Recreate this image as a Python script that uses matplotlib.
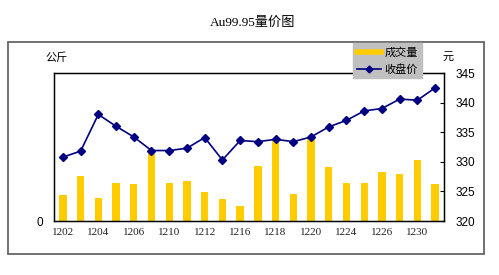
import matplotlib.pyplot as plt
from matplotlib.lines import Line2D
from matplotlib.patches import Rectangle

dates = ['1202', '1203', '1204', '1205', '1206', '1209', '1210', '1211', '1212', '1213', '1216',
         '1217', '1218', '1219', '1220', '1223', '1224', '1225', '1226', '1227', '1230', '1231']
# volume (kg)
volume = [2570, 4500, 2330, 3830, 3730, 7100, 3770, 4000, 2930, 2230, 1500,
          5470, 8170, 2700, 8270, 5430, 3800, 3800, 4900, 4670, 6100, 3670]
# close price (yuan)
close = [330.8, 331.8, 338.0, 336.0, 334.2, 331.9, 331.9, 332.3, 334.1, 330.3, 333.6,
         333.4, 333.8, 333.4, 334.2, 335.9, 337.0, 338.6, 339.0, 340.6, 340.4, 342.5]
tick_labels = dates[::2]

serif = ['Liberation Serif', 'Noto Sans CJK SC']
cjk = ['Noto Sans CJK SC', 'DejaVu Sans']

fig = plt.figure(figsize=(4.99, 2.75), dpi=100)
fig.patch.set_facecolor('white')

# outer chart frame
fig.patches.append(Rectangle((8 / 499, 1 - 254 / 275), 476 / 499, 212 / 275,
                             transform=fig.transFigure, fill=False,
                             edgecolor='#666666', lw=1.3))

ax = fig.add_axes([54 / 499, 1 - 221 / 275, 390 / 499, 148 / 275])
x = list(range(len(dates)))
ax.bar(x, volume, width=0.42, color='#FFCC00', zorder=2)
ax.set_xlim(-0.5, len(dates) - 0.5)
ax.set_ylim(0, 14800)
ax.set_yticks([0])
ax.set_yticklabels(['0'], family='Liberation Sans', fontsize=8.5)
ax.set_xticks(x[::2])
ax.set_xticklabels(tick_labels, family=serif, fontsize=8, color='#222222')
ax.tick_params(axis='x', length=0, pad=5)
ax.tick_params(axis='y', length=0, pad=8)
for s in ax.spines.values():
    s.set_color('black')
    s.set_linewidth(1)

ax2 = ax.twinx()
ax2.plot(x, close, color='#000080', marker='D', markersize=4, lw=1.2, zorder=3)
ax2.set_ylim(320, 345)
ax2.set_yticks(range(320, 346, 5))
ax2.set_yticklabels([str(v) for v in range(320, 346, 5)], family='Liberation Sans', fontsize=8.5)
ax2.tick_params(axis='y', direction='in', length=3, pad=8)
ax2.set_xlim(-0.5, len(dates) - 0.5)

fig.text(253 / 499, 1 - 23 / 275, 'Au99.95量价图', ha='center', va='center',
         family=serif, fontsize=9.5)
fig.text(57 / 499, 1 - 58 / 275, '公斤', ha='center', va='center', family=cjk, fontsize=8)
fig.text(448 / 499, 1 - 57 / 275, '元', ha='center', va='center', family=cjk, fontsize=8)

handles = [Line2D([], [], color='#FFCC00', lw=4),
           Line2D([], [], color='#000080', lw=1.2, marker='D', markersize=3.5)]
leg = fig.legend(handles, ['成交量', '收盘价'], loc='upper left',
                 bbox_to_anchor=(353 / 499, 1 - 43 / 275), prop={'family': cjk, 'size': 8},
                 frameon=True, fancybox=False, handlelength=2.2, handletextpad=0.3,
                 borderpad=0.35, labelspacing=0.55, borderaxespad=0)
leg.get_frame().set_facecolor('#C0C0C0')
leg.get_frame().set_edgecolor('#C0C0C0')
leg.get_frame().set_alpha(1)

fig.savefig('out.png', dpi=100)
